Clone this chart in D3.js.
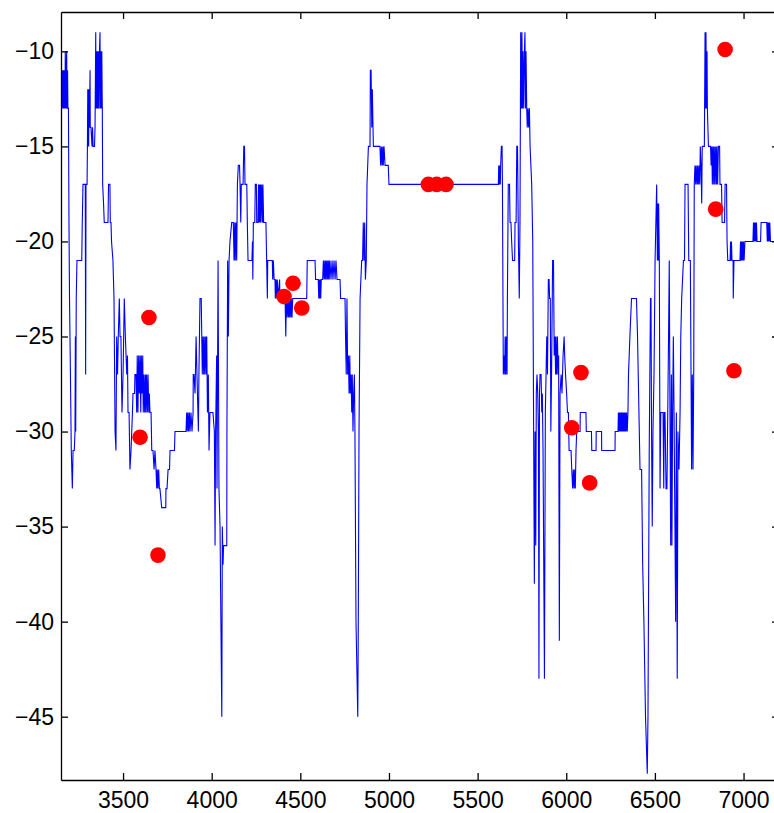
<!DOCTYPE html>
<html>
<head>
<meta charset="utf-8">
<script src="https://cdn.jsdelivr.net/npm/d3@7"></script>
<style>
    body { margin: 0; background: #fff; }
</style>
</head>
<body>
<div id="chart"></div>
<script>
var xTicks = [3500, 4000, 4500, 5000, 5500, 6000, 6500, 7000];
var yTicks = [-45, -40, -35, -30, -25, -20, -15, -10];

// blue trace, [sample, level]
var signal = [
    [3150, -12], [3153, -11], [3156, -13], [3158, -11], [3161, -13], [3164, -11], [3167, -13], [3170, -11],
    [3173, -13], [3174, -10], [3178, -13], [3180, -11], [3182, -10], [3184, -13], [3187, -11], [3189, -13],
    [3192, -13], [3195, -19], [3198, -23], [3202, -26], [3208, -31], [3214, -33], [3218, -31], [3225, -31],
    [3229, -30], [3231, -25], [3233, -30], [3236, -23], [3240, -21], [3267, -21], [3270, -19], [3274, -17],
    [3287, -17], [3289, -27], [3291, -17], [3297, -17], [3299, -15], [3301, -12], [3302, -15], [3304, -12],
    [3306, -15], [3308, -12], [3310, -14], [3314, -11], [3315, -14], [3319, -14], [3325, -15], [3328, -14],
    [3331, -15], [3339, -15], [3342, -14], [3346, -9], [3347, -13], [3350, -10], [3353, -13], [3356, -10],
    [3359, -13], [3362, -10], [3364, -13], [3367, -10], [3370, -9], [3372, -13], [3374, -10], [3377, -13],
    [3380, -10], [3383, -13], [3385, -17], [3390, -18], [3394, -19], [3415, -19], [3418, -17], [3426, -17],
    [3428, -19], [3432, -19], [3435, -20], [3443, -21], [3449, -23], [3455, -30], [3460, -31], [3464, -25],
    [3469, -27], [3473, -25], [3479, -23], [3483, -25], [3488, -25], [3494, -29], [3500, -27], [3507, -23],
    [3513, -25], [3521, -27], [3525, -26], [3528, -29], [3534, -29], [3539, -32], [3545, -31], [3553, -29],
    [3556, -28], [3565, -28], [3567, -27], [3573, -27], [3577, -29], [3580, -26], [3584, -29], [3588, -26],
    [3592, -28], [3596, -26], [3600, -29], [3603, -26], [3607, -28], [3611, -26], [3614, -29], [3618, -27],
    [3622, -29], [3626, -27], [3629, -29], [3633, -27], [3637, -29], [3641, -27], [3645, -29], [3648, -28],
    [3652, -29], [3658, -29], [3662, -31], [3669, -31], [3675, -32], [3680, -31], [3686, -32], [3690, -33],
    [3693, -32], [3697, -33], [3701, -32], [3705, -33], [3708, -33], [3718, -34], [3741, -34], [3742, -33],
    [3748, -33], [3754, -32], [3762, -32], [3765, -31], [3790, -31], [3793, -30], [3855, -30], [3859, -29],
    [3862, -30], [3866, -29], [3870, -30], [3874, -29], [3878, -30], [3883, -29], [3889, -30], [3895, -29],
    [3896, -27], [3900, -27], [3906, -28], [3912, -25], [3917, -27], [3925, -30], [3928, -27], [3931, -25],
    [3934, -23], [3941, -23], [3944, -25], [3947, -27], [3951, -25], [3955, -27], [3958, -25], [3962, -27],
    [3966, -25], [3970, -27], [3972, -25], [3976, -29], [3981, -27], [3985, -31], [3990, -29], [4000, -29],
    [4007, -29], [4015, -30], [4019, -36], [4022, -30], [4028, -26], [4030, -33], [4036, -21], [4041, -33],
    [4047, -35], [4057, -45], [4060, -35], [4064, -37], [4067, -36], [4085, -36], [4086, -30], [4090, -21],
    [4094, -25], [4098, -21], [4103, -20], [4113, -19], [4122, -19], [4126, -21], [4130, -19], [4133, -21],
    [4137, -19], [4141, -21], [4145, -17], [4150, -16], [4157, -16], [4160, -17], [4164, -19], [4167, -17],
    [4177, -17], [4181, -15], [4185, -15], [4188, -17], [4198, -17], [4201, -19], [4205, -21], [4227, -21],
    [4230, -20], [4232, -22], [4235, -19], [4243, -19], [4246, -17], [4252, -17], [4254, -19], [4261, -19],
    [4264, -17], [4267, -19], [4270, -17], [4273, -19], [4275, -17], [4278, -19], [4282, -17], [4287, -19],
    [4289, -17], [4293, -19], [4301, -19], [4306, -19], [4310, -21], [4314, -23], [4316, -21], [4342, -21],
    [4344, -22], [4348, -21], [4352, -22], [4357, -22], [4359, -23], [4363, -22], [4367, -23], [4370, -22],
    [4374, -23], [4383, -22], [4385, -23], [4414, -23], [4418, -25], [4421, -23], [4423, -24], [4427, -23],
    [4431, -24], [4434, -23], [4438, -24], [4442, -23], [4446, -24], [4449, -23], [4453, -24], [4457, -23],
    [4536, -23], [4539, -21], [4583, -21], [4586, -22], [4601, -22], [4604, -23], [4607, -22], [4609, -23],
    [4613, -22], [4615, -23], [4618, -22], [4626, -22], [4630, -21], [4634, -22], [4638, -21], [4641, -22],
    [4645, -21], [4649, -22], [4652, -21], [4656, -22], [4660, -21], [4663, -22], [4667, -21], [4673, -22],
    [4679, -21], [4684, -22], [4690, -21], [4696, -22], [4701, -21], [4707, -22], [4714, -22], [4724, -22],
    [4727, -23], [4752, -23], [4755, -25], [4759, -27], [4763, -23], [4767, -27], [4771, -26], [4775, -28],
    [4779, -26], [4782, -28], [4786, -27], [4790, -29], [4793, -27], [4797, -30], [4801, -28], [4805, -27],
    [4808, -30], [4814, -40], [4824, -45], [4827, -40], [4831, -30], [4837, -23], [4846, -21], [4851, -21],
    [4855, -19], [4859, -21], [4863, -19], [4867, -22], [4872, -21], [4876, -17], [4884, -15], [4893, -15],
    [4895, -11], [4899, -11], [4903, -14], [4906, -12], [4910, -14], [4912, -15], [4949, -15], [4953, -16],
    [4957, -15], [4961, -16], [4965, -15], [4968, -16], [4972, -15], [4978, -16], [4996, -16], [5000, -17],
    [5617, -17], [5619, -16], [5622, -17], [5625, -16], [5628, -17], [5630, -16], [5634, -15], [5638, -15],
    [5640, -17], [5645, -27], [5649, -26], [5653, -27], [5655, -25], [5659, -27], [5662, -25], [5666, -27],
    [5668, -23], [5673, -17], [5680, -17], [5683, -19], [5688, -19], [5692, -20], [5697, -21], [5709, -21],
    [5711, -19], [5717, -19], [5721, -15], [5725, -15], [5730, -20], [5735, -23], [5739, -19], [5743, -9],
    [5747, -13], [5750, -9], [5753, -13], [5756, -10], [5760, -13], [5764, -10], [5767, -9], [5770, -13],
    [5773, -10], [5777, -13], [5780, -14], [5784, -13], [5788, -14], [5792, -13], [5796, -15], [5805, -17],
    [5811, -20], [5820, -38], [5824, -30], [5828, -36], [5831, -28], [5835, -27], [5839, -28], [5843, -30],
    [5846, -43], [5849, -28], [5852, -27], [5858, -27], [5862, -29], [5865, -28], [5869, -31], [5877, -43],
    [5882, -29], [5886, -27], [5890, -25], [5894, -27], [5899, -22], [5903, -22], [5906, -23], [5910, -23],
    [5913, -30], [5917, -27], [5923, -21], [5928, -21], [5932, -26], [5936, -25], [5940, -27], [5942, -25],
    [5946, -27], [5950, -25], [5954, -27], [5957, -26], [5961, -41], [5965, -28], [5971, -27], [5976, -28],
    [5982, -26], [5988, -25], [5991, -26], [5996, -27], [6002, -28], [6007, -29], [6012, -29], [6016, -31],
    [6021, -31], [6027, -31], [6031, -32], [6036, -33], [6040, -32], [6044, -33], [6048, -32], [6051, -33],
    [6055, -31], [6059, -30], [6078, -30], [6079, -29], [6111, -29], [6113, -30], [6142, -30], [6144, -31],
    [6168, -31], [6169, -30], [6199, -30], [6200, -31], [6275, -31], [6276, -30], [6292, -30], [6294, -29],
    [6297, -30], [6300, -29], [6303, -30], [6306, -29], [6309, -30], [6311, -29], [6314, -30], [6317, -29],
    [6320, -30], [6323, -29], [6326, -30], [6328, -29], [6331, -30], [6334, -29], [6337, -30], [6340, -29],
    [6344, -30], [6348, -29], [6351, -27], [6359, -25], [6368, -23], [6376, -23], [6396, -23], [6402, -25],
    [6410, -29], [6416, -32], [6425, -32], [6431, -37], [6438, -40], [6447, -45], [6457, -48], [6461, -45],
    [6468, -31], [6475, -23], [6478, -23], [6481, -30], [6485, -35], [6489, -30], [6495, -27], [6501, -21],
    [6510, -17], [6514, -21], [6516, -18], [6519, -21], [6521, -18], [6525, -21], [6529, -33], [6533, -29],
    [6537, -29], [6546, -29], [6550, -33], [6553, -29], [6557, -29], [6563, -33], [6568, -33], [6577, -25],
    [6581, -21], [6585, -29], [6589, -36], [6593, -27], [6596, -36], [6600, -29], [6604, -25], [6608, -29],
    [6613, -35], [6617, -40], [6621, -29], [6626, -43], [6630, -30], [6636, -32], [6642, -29], [6646, -25],
    [6651, -23], [6656, -22], [6661, -21], [6667, -21], [6670, -17], [6687, -17], [6691, -21], [6700, -21],
    [6707, -32], [6711, -27], [6715, -32], [6719, -27], [6722, -17], [6726, -16], [6730, -17], [6733, -16],
    [6738, -17], [6741, -16], [6745, -17], [6749, -16], [6753, -17], [6756, -15], [6760, -16], [6764, -18],
    [6767, -15], [6779, -15], [6783, -9], [6785, -13], [6788, -9], [6791, -13], [6794, -10], [6796, -13],
    [6799, -14], [6802, -15], [6814, -15], [6817, -16], [6821, -15], [6824, -17], [6828, -15], [6832, -17],
    [6835, -15], [6839, -17], [6843, -15], [6847, -17], [6850, -15], [6854, -17], [6858, -15], [6865, -15],
    [6867, -17], [6876, -17], [6879, -19], [6893, -19], [6896, -17], [6904, -17], [6907, -20], [6911, -21],
    [6924, -21], [6927, -20], [6929, -21], [6932, -20], [6935, -21], [6941, -21], [6942, -23], [6946, -21],
    [6980, -21], [6983, -20], [6986, -21], [6989, -20], [6991, -21], [6994, -20], [6997, -21], [7000, -20],
    [7003, -21], [7008, -20], [7053, -20], [7056, -19], [7059, -20], [7062, -19], [7065, -20], [7068, -19],
    [7070, -20], [7073, -19], [7076, -20], [7082, -20], [7096, -20], [7099, -19], [7131, -19], [7134, -20],
    [7137, -19], [7139, -20], [7142, -19], [7145, -20], [7148, -19], [7152, -20], [7159, -20], [7195, -20]
];

// red markers
var dotX = [3596, 3646, 3697, 4408, 4459, 4508, 5222, 5269, 5322, 6031, 6083, 6132, 6843, 6896, 6946];
var dotY = [-30.3, -24.0, -36.5, -22.9, -22.2, -23.5, -17, -17, -17, -29.8, -26.9, -32.7, -18.3, -9.9, -26.8];

function renderChart(div_id) {
    var renderDiv = document.getElementById(div_id);
    renderDiv.innerHTML = "";

    var margin = { top: 12, left: 61 },
        width = 718,
        height = 768;

    var x = d3.scaleLinear().domain([3150, 7200]).range([0, width]);
    var y = d3.scaleLinear().domain([-48.33, -7.93]).range([height, 0]);

    var svg = d3.select(renderDiv).append("svg")
        .attr("width", 774)
        .attr("height", 813)
        .append("g")
        .attr("transform", "translate(" + margin.left + "," + margin.top + ")");

    svg.append("clipPath").attr("id", "plotclip")
        .append("rect").attr("width", width).attr("height", height);

    var line = d3.line()
        .x(function (d) { return x(d[0]); })
        .y(function (d) { return y(d[1]); });

    svg.append("path")
        .datum(signal)
        .attr("clip-path", "url(#plotclip)")
        .attr("fill", "none")
        .attr("stroke", "#0000ff")
        .attr("stroke-width", 1.1)
        .attr("d", line);

    svg.selectAll("circle.dot")
        .data(dotX)
        .enter().append("circle")
        .attr("class", "dot")
        .attr("cx", function (d) { return x(d); })
        .attr("cy", function (d, i) { return y(dotY[i]); })
        .attr("r", 7.8)
        .style("fill", "#ff0000");

    // box with inward ticks on all sides
    var fmt = d3.format("d");
    var axes = [
        { gen: d3.axisBottom(x).tickValues(xTicks).tickFormat(fmt).tickPadding(12), t: "translate(0," + height + ")" },
        { gen: d3.axisLeft(y).tickValues(yTicks).tickFormat(fmt).tickPadding(7), t: "translate(0,0)" },
        { gen: d3.axisTop(x).tickValues(xTicks).tickFormat(""), t: "translate(0,0)" },
        { gen: d3.axisRight(y).tickValues(yTicks).tickFormat(""), t: "translate(" + width + ",0)" }
    ];
    axes.forEach(function (a) {
        var g = svg.append("g")
            .attr("transform", a.t)
            .call(a.gen.tickSizeInner(-7).tickSizeOuter(0));
        g.attr("font-family", "'Liberation Sans', Arial, sans-serif")
            .attr("font-size", 23);
        g.selectAll("path, line").attr("stroke", "#000").attr("stroke-width", 1.3);
        g.selectAll("text").attr("fill", "#000");
    });
}

renderChart("chart");
</script>
</body>
</html>
